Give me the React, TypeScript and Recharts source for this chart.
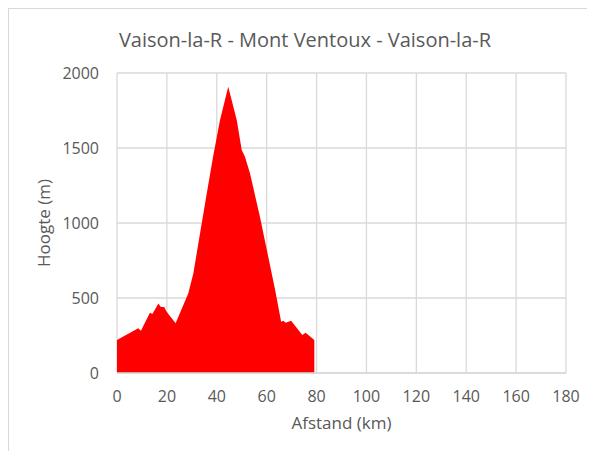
import React from 'react';
import { AreaChart, Area, XAxis, YAxis, CartesianGrid } from 'recharts';

const distanceKm = [0, 8.5, 9.6, 13.2, 14.2, 16.6, 17.5, 19, 19.9, 23.5, 28.6, 30.6, 33.3, 36, 38.6, 41.3, 44.6, 48, 50, 51.3, 53.3, 57.3, 63.4, 65.8, 66.7, 67.6, 69.8, 74.3, 75.6, 79.1];
const elevationM = [220, 298, 282, 402, 393, 464, 442, 438, 409, 331, 531, 664, 931, 1198, 1450, 1687, 1909, 1687, 1487, 1442, 1331, 1042, 553, 342, 349, 335, 349, 253, 269, 220];
const xTicks = [0, 20, 40, 60, 80, 100, 120, 140, 160, 180];
const yTicks = [0, 500, 1000, 1500, 2000];

const data = distanceKm.map((d, i) => ({ km: d, m: elevationM[i] }));

const FONT = '"Open Sans", sans-serif';
const GRAY = '#595959';

export default function App() {
  return (
    <div
      style={{
        position: 'relative',
        width: 587,
        height: 443,
        borderTop: '1px solid #d9d9d9',
        borderLeft: '1px solid #d9d9d9',
        boxSizing: 'border-box',
        fontFamily: FONT,
      }}
    >
      <div
        style={{
          position: 'absolute',
          left: 0,
          top: 18,
          width: 592,
          textAlign: 'center',
          fontSize: 20,
          lineHeight: '26px',
          color: GRAY,
        }}
      >
        Vaison-la-R - Mont Ventoux - Vaison-la-R
      </div>
      <AreaChart
        width={586}
        height={442}
        data={data}
        margin={{ top: 64, right: 29, bottom: 48, left: 0 }}
      >
        <CartesianGrid stroke="#d9d9d9" strokeWidth={1.3} />
        <XAxis
          dataKey="km"
          type="number"
          domain={[0, 180]}
          ticks={xTicks}
          height={30}
          tickLine={false}
          axisLine={{ stroke: '#d9d9d9', strokeWidth: 1.3 }}
          tickSize={6}
          tickMargin={12}
          tick={{ fill: GRAY, fontSize: 16, fontFamily: FONT }}
          label={{ value: 'Afstand (km)', position: 'bottom', offset: 14, fill: GRAY, fontSize: 17, fontFamily: FONT }}
        />
        <YAxis
          type="number"
          domain={[0, 2000]}
          ticks={yTicks}
          width={108}
          tickLine={false}
          axisLine={false}
          tickSize={6}
          tickMargin={12}
          tick={{ fill: GRAY, fontSize: 16, fontFamily: FONT }}
          label={{
            content: (props: any) => {
              const vb = props.viewBox || { x: 0, y: 64, width: 108, height: 300 };
              const cx = vb.x + 34;
              const cy = vb.y + vb.height / 2;
              return (
                <text
                  x={cx}
                  y={cy}
                  transform={`rotate(-90 ${cx} ${cy})`}
                  textAnchor="middle"
                  dominantBaseline="central"
                  fill={GRAY}
                  fontSize={17}
                  fontFamily={FONT}
                >
                  Hoogte (m)
                </text>
              );
            },
          }}
        />
        <Area
          type="linear"
          dataKey="m"
          stroke="none"
          fill="#ff0000"
          fillOpacity={1}
          isAnimationActive={false}
          baseValue={0}
        />
      </AreaChart>
    </div>
  );
}
